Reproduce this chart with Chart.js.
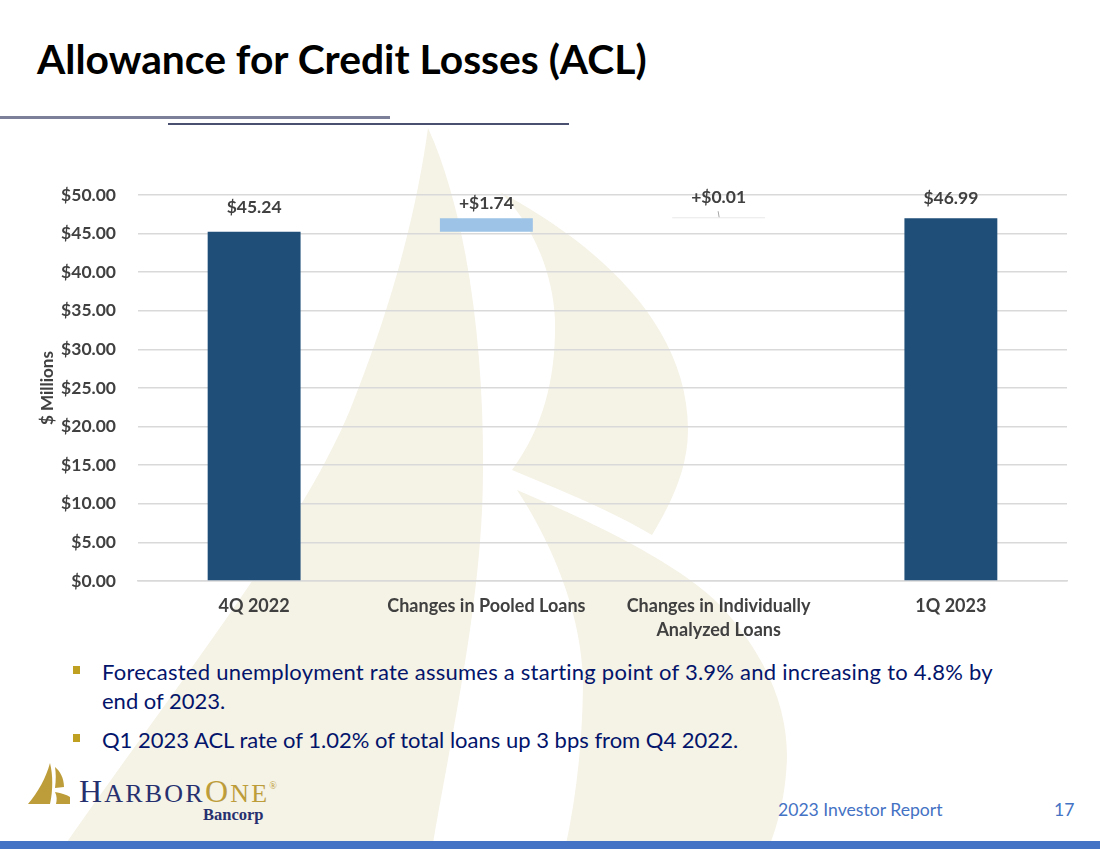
<!DOCTYPE html>
<html><head><meta charset="utf-8">
<script src="https://cdn.jsdelivr.net/npm/chart.js@4"></script>
<style>
html,body{margin:0;padding:0;background:#fff;width:1100px;height:849px;overflow:hidden}
body{position:relative;font-family:Lato,sans-serif}
.abs{position:absolute}
#wm{left:0;top:0}
#cv{position:absolute;left:0;top:130px}
h1{position:absolute;left:37px;top:34px;margin:0;font:700 40.8px Lato,sans-serif;color:#000;white-space:nowrap}
.b{position:absolute;left:102px;color:#03146b;font:400 22px/29px Lato,sans-serif;white-space:nowrap}
.s{position:absolute;left:73px;width:7px;height:8px;background:#c0a021}
</style></head><body>
<svg id="wm" class="abs" width="1100" height="849" viewBox="0 0 1100 849">
<g fill="#f5f2e6">
<path d="M428 128C418 200 398 290 350 410C300 530 180 680 62 849H432C450 740 483 600 483 470C484 360 470 220 428 128Z"/>
<path d="M500 192C590 240 688 320 688 430C688 470 670 505 652 535C610 510 560 490 512 470C545 425 556 375 555 320C553 270 530 220 500 192Z"/>
<path d="M517 490C600 525 680 565 720 605C770 660 787 710 787 757C786 790 780 820 768 849H565C578 790 583 730 583 680C581 610 550 540 517 490Z"/>
</g>
<rect x="0" y="116" width="390" height="3" fill="#7c8099"/>
<rect x="168" y="123" width="401" height="2" fill="#4a5070"/>
<rect x="0" y="841" width="1100" height="8" fill="#4472c4"/>
<g fill="#bd9d3a">
<path d="M50 763C46 778 38 792 28 804H50C53 790 53 775 50 763Z"/>
<path d="M55 767C60 771 64 778 64 787L55 788C56 780 56 773 55 767Z"/>
<path d="M55 792C62 793 67 795 70 797V804H56C57 800 57 796 55 792Z"/>
</g>
</svg>
<h1>Allowance for Credit Losses (ACL)</h1>
<canvas id="cv" width="1100" height="515"></canvas>
<div class="s" style="top:666px"></div>
<div class="b" style="top:657px;letter-spacing:.24px">Forecasted unemployment rate assumes a starting point of 3.9% and increasing to 4.8% by</div>
<div class="b" style="top:686px">end of 2023.</div>
<div class="s" style="top:734px"></div>
<div class="b" style="top:725px">Q1 2023 ACL rate of 1.02% of total loans up 3 bps from Q4 2022.</div>
<div class="abs" style="left:79px;top:773px;font:400 32px 'Liberation Serif',serif;letter-spacing:2.2px;color:#27306f;white-space:nowrap">H<span style="font-size:26px">ARBOR</span><span style="color:#bd9d3a">O<span style="font-size:26px">NE</span></span><span style="color:#bd9d3a;font-size:10px;vertical-align:13px">®</span></div>
<div class="abs" style="left:203px;top:805px;font:700 16.5px 'Liberation Serif',serif;color:#27306f">Bancorp</div>
<div class="abs" style="left:778px;top:799px;font:400 17.6px Lato,sans-serif;color:#4472c4">2023 Investor Report</div>
<div class="abs" style="left:1054px;top:799px;font:400 17.6px Lato,sans-serif;color:#4472c4">17</div>
<script>
const categories = [["4Q 2022"],["Changes in Pooled Loans"],["Changes in Individually","Analyzed Loans"],["1Q 2023"]];
const barStarts = [0,45.24,46.98,0];
const barEnds = [45.24,46.98,46.99,46.99];
const barLabels = ["$45.24","+$1.74","+$0.01","$46.99"];
const barColors = ["#1f4e79","#9dc3e6","#e8e8e8","#1f4e79"];
const labelGaps = [24,15,21,20];
const tickStep = 5, axisMax = 50;
const labelFont = "Lato, sans-serif";
const labelPlugin = {
  id:"barLabels",
  afterDatasetsDraw(c){
    const x=c.ctx, els=c.getDatasetMeta(0).data;
    x.save();
    x.font="700 17.5px "+labelFont; x.fillStyle="#404040"; x.textAlign="center"; x.textBaseline="middle";
    els.forEach((e,i)=>x.fillText(barLabels[i],e.x,c.scales.y.getPixelForValue(barEnds[i])-labelGaps[i]));
    const e=els[2], top=c.scales.y.getPixelForValue(barEnds[2]);
    x.strokeStyle="#a6a6a6"; x.lineWidth=1;
    x.beginPath(); x.moveTo(e.x-0.5,top-7); x.lineTo(e.x+0.5,top-1); x.stroke();
    x.restore();
  }
};
new Chart(document.getElementById("cv"),{
  type:"bar",
  data:{labels:categories,datasets:[{data:barStarts.map((s,i)=>[s,barEnds[i]]),backgroundColor:barColors,barPercentage:0.4,categoryPercentage:1,minBarLength:1}]},
  plugins:[labelPlugin],
  options:{
    responsive:false,animation:false,
    layout:{padding:{left:37,right:33,top:65,bottom:0}},
    plugins:{legend:{display:false},tooltip:{enabled:false}},
    scales:{
      x:{afterFit(a){a.height=64},grid:{display:false,drawTicks:false},border:{color:"#d9d9d9",width:1.5},
         ticks:{color:"#404040",font:{family:labelFont,size:18,weight:"700",lineHeight:1.33},maxRotation:0,autoSkip:false,padding:13}},
      y:{afterFit(a){a.width=101},min:0,max:axisMax,grid:{color:"#d9d9d9",lineWidth:1.5,drawTicks:false},border:{display:false},
         title:{display:true,text:"$ Millions",color:"#404040",font:{family:labelFont,size:17,weight:"700"},padding:{top:0,bottom:0}},
         ticks:{stepSize:tickStep,color:"#404040",padding:22,font:{family:labelFont,size:17.5,weight:"700"},callback:v=>"$"+v.toFixed(2)}}
    }
  }
});
</script>
</body></html>
